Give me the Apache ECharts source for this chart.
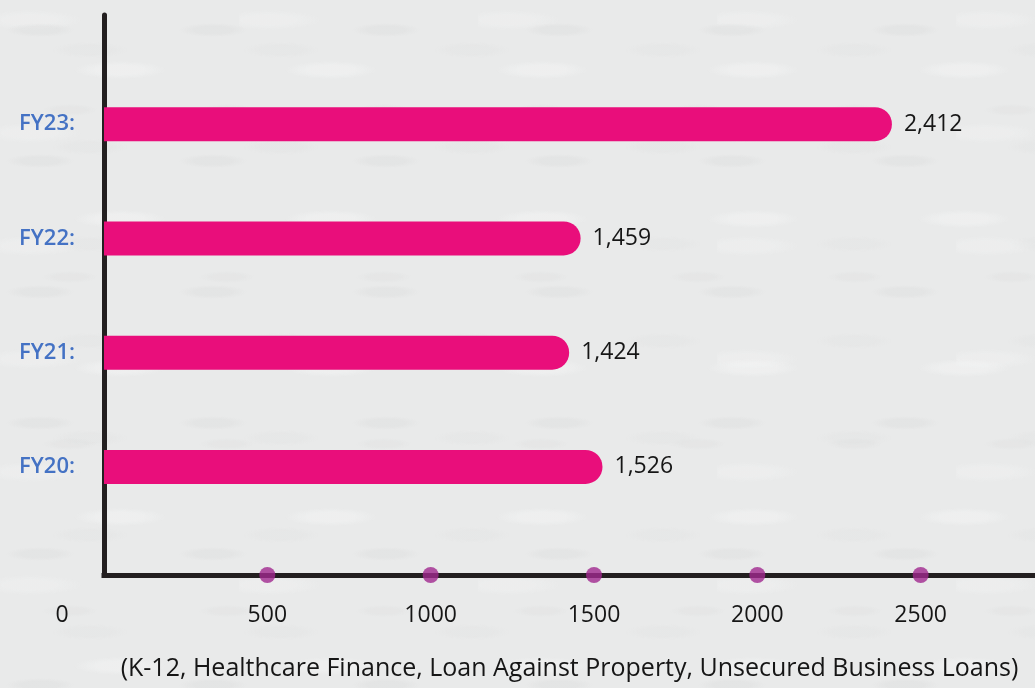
<!DOCTYPE html>
<html>
<head>
<meta charset="utf-8">
<script src="https://cdn.jsdelivr.net/npm/echarts@6/dist/echarts.min.js"></script>
<style>
  html, body { margin: 0; padding: 0; }
  body {
    width: 1035px; height: 688px; overflow: hidden;
    background-color: #e9eaea;
    /* faint camouflage-style backdrop */
    background-image:
      radial-gradient(ellipse 34px 7px at 40px 30px, rgba(214,215,215,0.28) 55%, rgba(214,215,215,0) 100%),
      radial-gradient(ellipse 46px 9px at 120px 70px, rgba(246,247,247,0.4) 50%, rgba(246,247,247,0) 100%),
      radial-gradient(ellipse 28px 6px at 70px 110px, rgba(218,219,219,0.25) 55%, rgba(218,219,219,0) 100%),
      radial-gradient(ellipse 52px 10px at 30px 20px, rgba(243,244,244,0.35) 50%, rgba(243,244,244,0) 100%),
      radial-gradient(ellipse 38px 8px at 90px 50px, rgba(220,221,221,0.22) 55%, rgba(220,221,221,0) 100%);
    background-size: 173px 131px, 211px 149px, 157px 167px, 239px 113px, 191px 97px;
  }
  #chart { width: 1035px; height: 688px; }
</style>
</head>
<body>
<div id="chart"></div>
<script>
// Portfolio size by fiscal year
const years = ['FY20', 'FY21', 'FY22', 'FY23'];
const portfolio = [1526, 1424, 1459, 2412];
const dotValues = [500, 1000, 1500, 2000, 2500];
const footnote = '(K-12, Healthcare Finance, Loan Against Property, Unsecured Business Loans)';

const AXIS_MAX = 2850;
const FONT = '"Open Sans", "Noto Sans", sans-serif';
const INK = '#161616';
const fmt = v => Number(v).toLocaleString('en-US');

const chart = echarts.init(document.getElementById('chart'));
chart.setOption({
  animation: false,
  grid: [
    // bars
    { left: 104, right: 0, top: 67, bottom: 164 },
    // axis frame, tick labels and dots
    { left: 104, right: 0, top: 15, bottom: 113 }
  ],
  xAxis: [
    { gridIndex: 0, type: 'value', min: 0, max: AXIS_MAX, show: false },
    {
      gridIndex: 1, type: 'value', min: 0, max: AXIS_MAX, interval: 500,
      axisLine: { show: true, lineStyle: { color: '#231f20', width: 5, cap: 'square' } },
      axisTick: { show: false },
      splitLine: { show: false },
      axisLabel: {
        showMaxLabel: false,
        margin: 29,
        fontFamily: FONT, fontSize: 23, color: INK,
        formatter: v => (v === 0 ? '{z|0}' : String(v)),
        rich: { z: { fontFamily: FONT, fontSize: 23, color: INK, padding: [0, 84, 0, 0] } }
      },
      name: footnote,
      nameLocation: 'middle',
      nameGap: 81,
      nameTextStyle: { fontFamily: FONT, fontSize: 25, color: INK }
    }
  ],
  yAxis: [
    {
      gridIndex: 0, type: 'category', data: years,
      axisLine: { show: false }, axisTick: { show: false },
      axisLabel: {
        margin: 29, fontFamily: FONT, fontSize: 22, fontWeight: 600, color: '#4472c4',
        formatter: v => v + ':'
      }
    },
    {
      gridIndex: 1, type: 'value', min: 0, max: 1,
      axisLine: { show: true, lineStyle: { color: '#231f20', width: 5, cap: 'round' } },
      axisTick: { show: false }, axisLabel: { show: false }, splitLine: { show: false }
    }
  ],
  series: [
    {
      type: 'bar',
      xAxisIndex: 0, yAxisIndex: 0,
      data: portfolio,
      barWidth: 34,
      itemStyle: { color: '#e90e7b', borderRadius: [0, 17, 17, 0] },
      label: {
        show: true, position: 'right', distance: 12,
        fontFamily: FONT, fontSize: 23, color: INK,
        formatter: p => fmt(p.value)
      }
    },
    {
      type: 'scatter',
      xAxisIndex: 1, yAxisIndex: 1,
      data: dotValues.map(v => [v, 0]),
      symbolSize: 16,
      clip: false,
      itemStyle: { color: '#a0288f' }
    }
  ]
});
</script>
</body>
</html>
